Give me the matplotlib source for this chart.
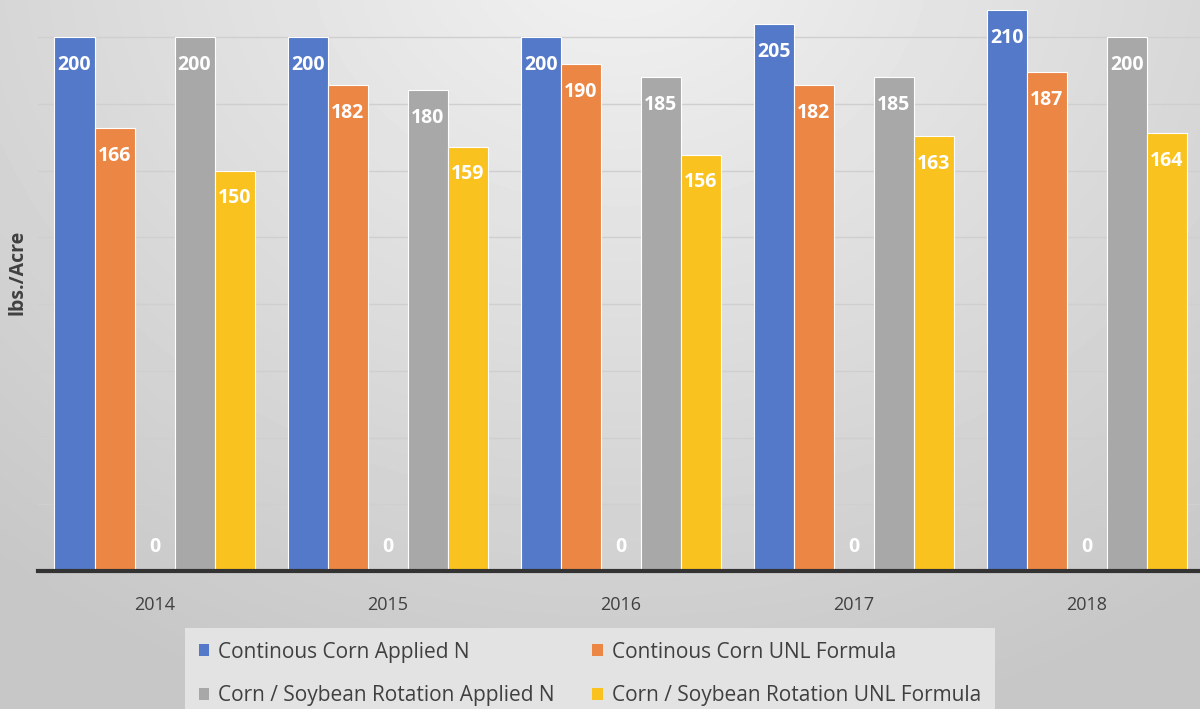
import numpy as np
import matplotlib.pyplot as plt
from matplotlib.patches import Patch

plt.rcParams['font.family'] = ['Open Sans', 'DejaVu Sans']

years = ['2014', '2015', '2016', '2017', '2018']
cc_applied = [200, 200, 200, 205, 210]
cc_unl = [166, 182, 190, 182, 187]
blank = [0, 0, 0, 0, 0]
rot_applied = [200, 180, 185, 185, 200]
rot_unl = [150, 159, 156, 163, 164]

names = ['Continous Corn Applied N', 'Continous Corn UNL Formula', '',
         'Corn / Soybean Rotation Applied N', 'Corn / Soybean Rotation UNL Formula']
colors = ['#5479c9', '#ec8645', '#e2e2e2', '#a8a8a8', '#f9c21e']
series = [cc_applied, cc_unl, blank, rot_applied, rot_unl]

W, H = 1200, 709
fig = plt.figure(figsize=(12, 7.09), dpi=100)

# soft radial background, lighter near the top middle
bg = fig.add_axes([0, 0, 1, 1])
yy, xx = np.mgrid[0:H, 0:W]
d = np.sqrt(((xx - 620) / 1.0) ** 2 + ((yy + 60) / 0.85) ** 2)
shade = np.clip(0.95 - 0.16 * d / 900, 0.78, 0.95)
bg.imshow(shade, cmap='gray', vmin=0, vmax=1, aspect='auto', extent=[0, 1, 0, 1])
bg.axis('off')

ax = fig.add_axes([38 / W, 1 - 571 / H, 1165.5 / W, 571 / H])
ax.set_facecolor('none')

x = np.arange(len(years))
bw = 0.1717
for i, (vals, c) in enumerate(zip(series, colors)):
    pos = x + (i - 2) * bw
    bars = ax.bar(pos, vals, bw, color=c, edgecolor='white' if i != 2 else 'none',
                  linewidth=0.8, zorder=3)
    for b, v in zip(bars, vals):
        off = -20 if v > 0 else 17
        ax.annotate(str(v), (b.get_x() + b.get_width() / 2, v),
                    xytext=(0, off), textcoords='offset points',
                    ha='center', va='center', color='white',
                    fontsize=14, fontweight='bold', zorder=4)

ax.set_xlim(-0.5, 4.5)
ax.set_ylim(0, 213.9)
ax.set_yticks(np.arange(0, 201, 25))
ax.set_yticklabels([])
ax.tick_params(axis='y', length=0)
ax.grid(axis='y', color='#cfcfcf', linewidth=1, zorder=0)
ax.set_xticks(x)
ax.set_xticklabels(years, fontsize=13, color='#404040')
ax.tick_params(axis='x', length=0, pad=18)
for s in ['top', 'right', 'left']:
    ax.spines[s].set_visible(False)
ax.spines['bottom'].set_color('#333333')
ax.spines['bottom'].set_linewidth(3)
ax.spines['bottom'].set_zorder(5)

fig.text(18 / W, 1 - 272 / H, 'lbs./Acre', rotation=90, ha='center', va='center',
         fontsize=14, fontweight='bold', color='#404040')

order = [0, 3, 1, 4]
handles = [Patch(facecolor=colors[i]) for i in order]
labels = [names[i] for i in order]
leg = fig.legend(handles, labels, ncol=2, loc='upper left',
                 bbox_to_anchor=(185 / W, 1 - 628 / H), borderaxespad=0, frameon=True,
                 fontsize=15, handlelength=0.5, handleheight=0.5, handletextpad=0.45,
                 columnspacing=1.8, labelspacing=1.1, borderpad=0.65,
                 labelcolor='#404040', fancybox=False)
leg.get_frame().set_facecolor('#e3e3e3')
leg.get_frame().set_edgecolor('none')
leg.get_frame().set_alpha(1)

fig.savefig('out.png', dpi=100)
